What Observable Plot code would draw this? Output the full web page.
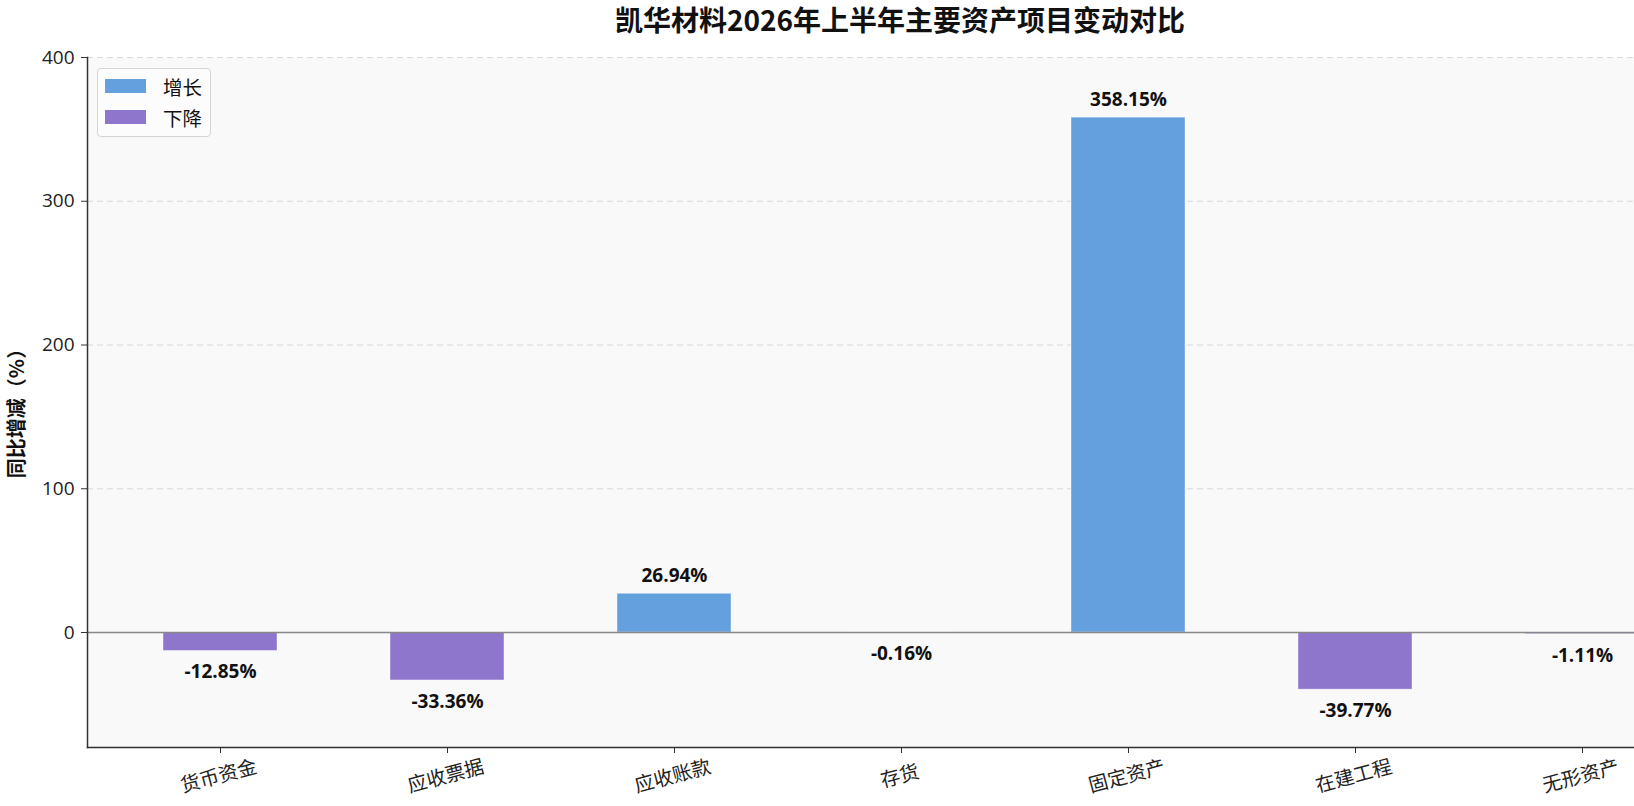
<!DOCTYPE html>
<html>
<head>
<meta charset="utf-8">
<script src="https://cdn.jsdelivr.net/npm/d3@7"></script>
<script src="https://cdn.jsdelivr.net/npm/@observablehq/plot@0.6"></script>
<style>
  html, body { margin: 0; padding: 0; background: white; overflow: hidden; }
  #wrap { position: relative; width: 1800px; font-family: "Open Sans", "Noto Sans CJK SC", sans-serif; }
  #title { height: 40px; line-height: 38px; text-align: center; font-size: 28px; font-weight: bold; color: #111;
           font-family: "Noto Sans CJK SC", sans-serif; }
  #legend { position: absolute; left: 97px; top: 68px; width: 114px; height: 69px; border: 1.5px solid #d4d4d4;
            border-radius: 4px; background: rgba(252,252,252,0.9); box-sizing: border-box; }
  .row { position: absolute; left: 7px; height: 24px; display: flex; align-items: center; }
  .sw { width: 41px; height: 14px; margin-right: 17px; }
  .lab { font-size: 19.5px; color: #111; font-family: "Noto Sans CJK SC", sans-serif; }
</style>
</head>
<body>
<div id="wrap">
  <div id="title">凯华材料2026年上半年主要资产项目变动对比</div>
  <div id="chart"></div>
  <div id="legend">
    <div class="row" style="top:5px"><div class="sw" id="sw1"></div><span class="lab">增长</span></div>
    <div class="row" style="top:36px"><div class="sw" id="sw2"></div><span class="lab">下降</span></div>
  </div>
</div>
<script>
const categories = ["货币资金", "应收票据", "应收账款", "存货", "固定资产", "在建工程", "无形资产"];
const changes = [-12.85, -33.36, 26.94, -0.16, 358.15, -39.77, -1.11];
const yTicks = [0, 100, 200, 300, 400];
const legendLabels = ["增长", "下降"];
const colorUp = "#64a0dd";
const colorDown = "#8e76cd";

document.getElementById("sw1").style.background = colorUp;
document.getElementById("sw2").style.background = colorDown;

const data = categories.map((c, i) => ({cat: c, v: changes[i]}));

const chart = Plot.plot({
  width: 1800,
  height: 766,
  marginTop: 17,
  marginBottom: 59,
  marginLeft: 87,
  marginRight: 86,
  style: {fontFamily: "'Open Sans', 'Noto Sans CJK SC', sans-serif", fontSize: "19px", color: "#222", background: "white"},
  x: {domain: categories, paddingInner: 0.5, paddingOuter: 0.325, label: null},
  y: {domain: [-80, 400], label: null},
  marks: [
    Plot.frame({fill: "#f9f9f9", stroke: null}),
    Plot.gridY([100, 200, 300, 400], {stroke: "#d8d8d8", strokeOpacity: 1, strokeDasharray: "6,4", strokeWidth: 1}),
    Plot.barY(data, {x: "cat", y: "v", fill: d => d.v >= 0 ? colorUp : colorDown, stroke: "white", strokeOpacity: 0.4, strokeWidth: 1}),
    Plot.ruleY([0], {stroke: "#888", strokeWidth: 1.5}),
    Plot.text(data.filter(d => d.v >= 0), {x: "cat", y: "v", text: d => d.v.toFixed(2) + "%", lineAnchor: "bottom", dy: -12, fontWeight: "bold", fontSize: 19, fill: "#111"}),
    Plot.text(data.filter(d => d.v < 0), {x: "cat", y: "v", text: d => d.v.toFixed(2) + "%", lineAnchor: "top", dy: 14, fontWeight: "bold", fontSize: 19, fill: "#111"}),
    Plot.frame({anchor: "left", stroke: "#333", strokeWidth: 1.5}),
    Plot.frame({anchor: "bottom", stroke: "#333", strokeWidth: 1.5}),
    Plot.axisY({ticks: yTicks, tickSize: 6, tickPadding: 7, fontSize: 19, label: null, stroke: "#333"}),
    Plot.axisX({tickSize: 6, tickFormat: () => "", label: null, stroke: "#333"}),
    Plot.text(categories, {x: d => d, frameAnchor: "bottom", dy: 35, rotate: -15, fontSize: 19.5, fill: "#222", fontFamily: "'Noto Sans CJK SC', sans-serif"}),
    Plot.text(["同比增减（%）"], {frameAnchor: "left", textAnchor: "middle", dx: -70, dy: 6, rotate: -90, fontWeight: "bold", fontSize: 20, fill: "#111", fontFamily: "'Noto Sans CJK SC', sans-serif"})
  ]
});
document.getElementById("chart").appendChild(chart);
</script>
</body>
</html>
